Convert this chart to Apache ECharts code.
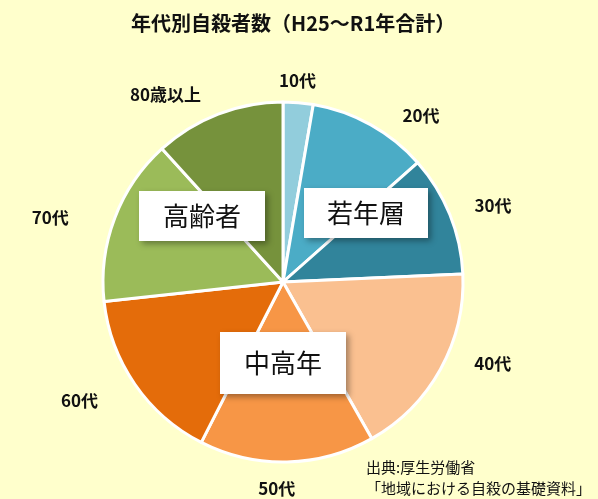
<!DOCTYPE html>
<html>
<head>
<meta charset="utf-8">
<title>年代別自殺者数</title>
<script src="https://cdn.jsdelivr.net/npm/echarts@6/dist/echarts.min.js"></script>
<style>
    html, body { margin: 0; padding: 0; background: #FFFFCC; }
    #chart { width: 598px; height: 499px; }
</style>
</head>
<body>
<div id="chart"></div>
<script>
    // 年代別の自殺者数（H25〜R1年合計、図から読み取った概数）
    var ageGroups = ['10代', '20代', '30代', '40代', '50代', '60代', '70代', '80歳以上'];
    var deaths = [4200, 16800, 16900, 27300, 24500, 24600, 23400, 18300];
    var sliceColors = ['#92CDDC', '#4BACC6', '#31849B', '#FAC090', '#F79646', '#E46C0A', '#9BBB59', '#76923C'];

    // 区分の見出し
    var groupNames = ['若年層', '中高年', '高齢者'];

    // 外側ラベルの微調整（px）
    var labelNudge = [[-4, 16], [32, 24], [8, 5], [19, -24], [-11, -11], [-24, -5], [-29, 13], [-39, 16]];

    var jpFont = '"Noto Sans CJK JP", "Noto Sans", sans-serif';

    var pieData = ageGroups.map(function (name, i) {
        return { name: name, value: deaths[i], itemStyle: { color: sliceColors[i] } };
    });

    function groupBox(text, left, top, w, h) {
        return {
            type: 'group',
            left: left,
            top: top,
            z: 100,
            children: [{
                type: 'rect',
                z: 100,
                shape: { x: 0, y: 0, width: w, height: h },
                style: {
                    fill: '#fff',
                    shadowBlur: 6,
                    shadowOffsetX: 3,
                    shadowOffsetY: 3,
                    shadowColor: 'rgba(0,0,0,0.35)'
                }
            }, {
                type: 'text',
                z: 101,
                x: w / 2,
                y: h / 2,
                style: {
                    text: text,
                    fill: '#111',
                    font: '26px ' + jpFont,
                    align: 'center',
                    verticalAlign: 'middle'
                }
            }]
        };
    }

    var chart = echarts.init(document.getElementById('chart'));
    chart.setOption({
        backgroundColor: '#FFFFCC',
        animation: false,
        title: {
            text: '年代別自殺者数（H25〜R1年合計）',
            left: 126,
            top: 8,
            textStyle: { fontFamily: jpFont, fontSize: 20, fontWeight: 'bold', color: '#111' }
        },
        series: [{
            type: 'pie',
            center: [283, 282],
            radius: 180,
            startAngle: 90,
            clockwise: true,
            silent: true,
            itemStyle: { borderColor: '#fff', borderWidth: 3 },
            label: { show: false },
            labelLine: { show: false },
            data: pieData
        }, {
            // 外側の年代ラベル用（透明の輪）
            type: 'pie',
            center: [283, 282],
            radius: [190, 240],
            startAngle: 90,
            clockwise: true,
            silent: true,
            itemStyle: { color: 'transparent' },
            label: {
                show: true,
                position: 'inside',
                formatter: '{b}',
                color: '#111',
                fontFamily: jpFont,
                fontSize: 17,
                fontWeight: 'bold'
            },
            labelLine: { show: false },
            labelLayout: function (p) {
                return { dx: labelNudge[p.dataIndex][0], dy: labelNudge[p.dataIndex][1] };
            },
            data: ageGroups.map(function (name, i) { return { name: name, value: deaths[i] }; })
        }],
        graphic: [
            groupBox(groupNames[0], 304, 188, 124, 50),
            groupBox(groupNames[1], 220, 332, 126, 62),
            groupBox(groupNames[2], 139, 191, 126, 50),
            {
                type: 'text',
                left: 366,
                top: 457,
                z: 100,
                style: {
                    text: '出典:厚生労働省\n「地域における自殺の基礎資料」',
                    fill: '#111',
                    font: '15px ' + jpFont,
                    lineHeight: 21
                }
            }
        ]
    });
</script>
</body>
</html>
